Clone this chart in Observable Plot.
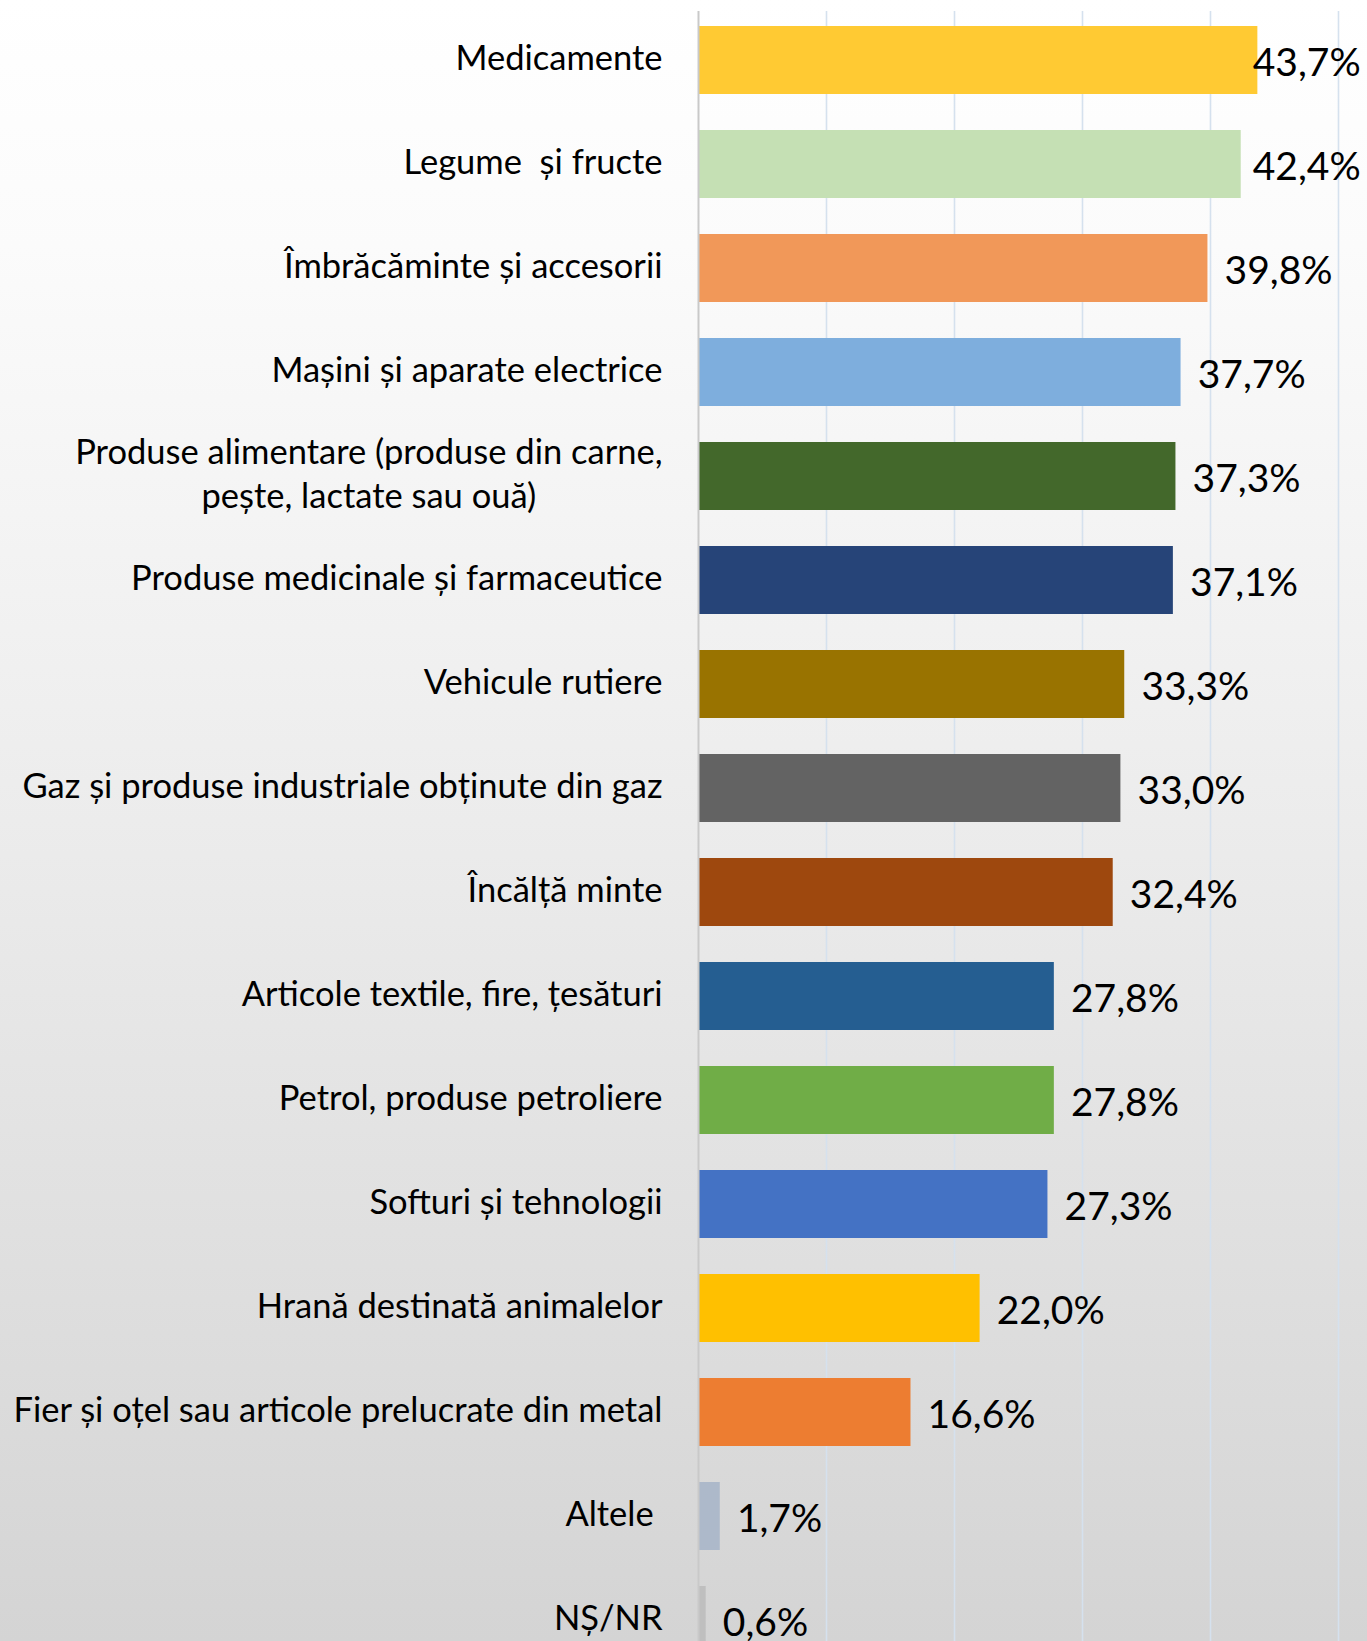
<!DOCTYPE html>
<html>
<head>
<meta charset="utf-8">
<script src="https://cdn.jsdelivr.net/npm/d3@7"></script>
<script src="https://cdn.jsdelivr.net/npm/@observablehq/plot@0.6"></script>
<style>
  html, body { margin: 0; padding: 0; overflow: hidden; background: #fff; }
  #chart svg { display: block; }
</style>
</head>
<body>
<div id="chart"></div>
<script>
const categories = [
  "Medicamente",
  "Legume\u00a0 și fructe",
  "Îmbrăcăminte și accesorii",
  "Mașini și aparate electrice",
  "Produse alimentare (produse din carne,\npește, lactate sau ouă)",
  "Produse medicinale și farmaceutice",
  "Vehicule rutiere",
  "Gaz și produse industriale obținute din gaz",
  "Încălță minte",
  "Articole textile, fire, țesături",
  "Petrol, produse petroliere",
  "Softuri și tehnologii",
  "Hrană destinată animalelor",
  "Fier și oțel sau articole prelucrate din metal",
  "Altele\u00a0",
  "NȘ/NR"
];
const values = [43.7, 42.4, 39.8, 37.7, 37.3, 37.1, 33.3, 33.0, 32.4, 27.8, 27.8, 27.3, 22.0, 16.6, 1.7, 0.6];
const barColors = [
  "#FFCA33", "#C5E0B4", "#F19859", "#7EAEDD", "#43682B", "#264478",
  "#997300", "#636363", "#9E480E", "#255E91", "#70AD47", "#4472C4",
  "#FFC000", "#ED7D31", "#ADB9CA", "#BFBFBF"
];
const gridTicks = [10, 20, 30, 40, 50];

const data = categories.map((c, i) => ({cat: c, value: values[i]}));
const fmt = v => v.toFixed(1).replace(".", ",") + "%";
const FONT = "Lato, 'Open Sans', sans-serif";

const plot = Plot.plot({
  width: 1367,
  height: 1641,
  marginLeft: 698,
  marginRight: 29,
  marginTop: 11,
  marginBottom: 0,
  style: {
    background: "linear-gradient(to bottom, #ffffff 0%, #fbfbfb 15%, #ececec 50%, #d4d4d4 100%)",
    fontFamily: FONT,
    color: "#000"
  },
  x: {domain: [0, 50], axis: null},
  y: {domain: categories, range: [8, 1672], paddingInner: 0.346, paddingOuter: 0.173, align: 0.5, label: null},
  color: {domain: categories, range: barColors},
  marks: [
    Plot.ruleX(gridTicks, {stroke: "#d5e1ee", strokeWidth: 1.6}),
    Plot.barX(data, {x: "value", y: "cat", fill: "cat"}),
    Plot.ruleX([0], {stroke: "#c9c9c9", strokeWidth: 2}),
    Plot.axisY({
      tickSize: 0,
      tickPadding: 36,
      dy: -5,
      fontSize: 34.5,
      lineHeight: 1.28,
      fill: "#000",
      fontFamily: FONT,
      label: null
    }),
    Plot.text(data, {
      x: d => Math.min(d.value + 1.3, 43.3),
      y: "cat",
      dy: 3,
      text: d => fmt(d.value),
      textAnchor: "start",
      fontSize: 39,
      fontFamily: FONT,
      fill: "#000"
    })
  ]
});

document.getElementById("chart").appendChild(plot);

function centerSecondLines() {
  plot.querySelectorAll("text").forEach(t => {
    const sp = t.querySelectorAll("tspan");
    if (sp.length === 2) {
      const w1 = sp[0].getComputedTextLength();
      const w2 = sp[1].getComputedTextLength();
      sp[1].setAttribute("x", -(w1 - w2) / 2);
    }
  });
}
centerSecondLines();
if (document.fonts && document.fonts.ready) document.fonts.ready.then(centerSecondLines);
</script>
</body>
</html>
